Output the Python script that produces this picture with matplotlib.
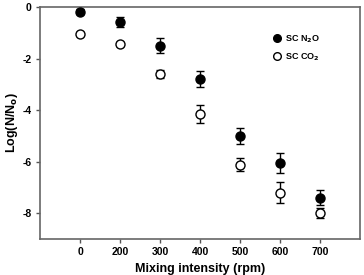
import matplotlib
matplotlib.use("Agg")
import matplotlib.pyplot as plt
from matplotlib.lines import Line2D

categories = ["0", "200", "300", "400", "500", "600", "700"]
n2o = [-0.18, -0.57, -1.50, -2.80, -5.00, -6.05, -7.40]
n2o_err = [0.10, 0.20, 0.30, 0.30, 0.30, 0.40, 0.30]
co2 = [-1.03, -1.45, -2.60, -4.14, -6.12, -7.20, -7.99]
co2_err = [0.05, 0.08, 0.15, 0.35, 0.25, 0.40, 0.20]

plt.rcParams['font.family'] = ['Liberation Sans', 'DejaVu Sans']
plt.rcParams['font.weight'] = 'bold'

fig = plt.figure(figsize=(3.64, 2.75), dpi=100)
ax = fig.add_axes([40/364, 1 - 239/275, 320/364, 232/275])

x = list(range(len(categories)))
ax.errorbar(x, n2o, yerr=n2o_err, fmt='o', color='black', markerfacecolor='black',
            markersize=6.5, capsize=3, elinewidth=1, capthick=1, zorder=3)
ax.errorbar(x, co2, yerr=co2_err, fmt='o', color='black', markerfacecolor='white',
            markersize=6.5, capsize=3, elinewidth=1, capthick=1, zorder=3)

ax.set_xlim(-1, 7)
ax.set_ylim(-9, 0)
ax.set_xticks(x)
ax.set_xticklabels(categories)
ax.set_yticks([0, -2, -4, -6, -8])
ax.set_yticklabels(["0", "-2", "-4", "-6", "-8"])
ax.tick_params(labelsize=7.5, length=3, width=1, color='#555555', direction='out', pad=3)
for s in ax.spines.values():
    s.set_color('#666666')
    s.set_linewidth(1.2)

ax.set_xlabel("Mixing intensity (rpm)", fontsize=9, fontweight='bold', labelpad=4)
ax.set_ylabel("Log(N/N$_\\mathbf{o}$)", fontsize=9, fontweight='bold', labelpad=2)

handles = [
    Line2D([], [], linestyle='none', marker='o', markersize=5.5, markerfacecolor='black', markeredgecolor='black'),
    Line2D([], [], linestyle='none', marker='o', markersize=5.5, markerfacecolor='white', markeredgecolor='black'),
]
labels = ['SC N$_\\mathbf{2}$O', 'SC CO$_\\mathbf{2}$']
ax.legend(handles, labels, loc='upper left', bbox_to_anchor=(226/320, 0.915), frameon=False, fontsize=6.5,
          handletextpad=0.4, labelspacing=0.75, borderpad=0.2, handlelength=1.0)

fig.savefig("out.png", dpi=100)
